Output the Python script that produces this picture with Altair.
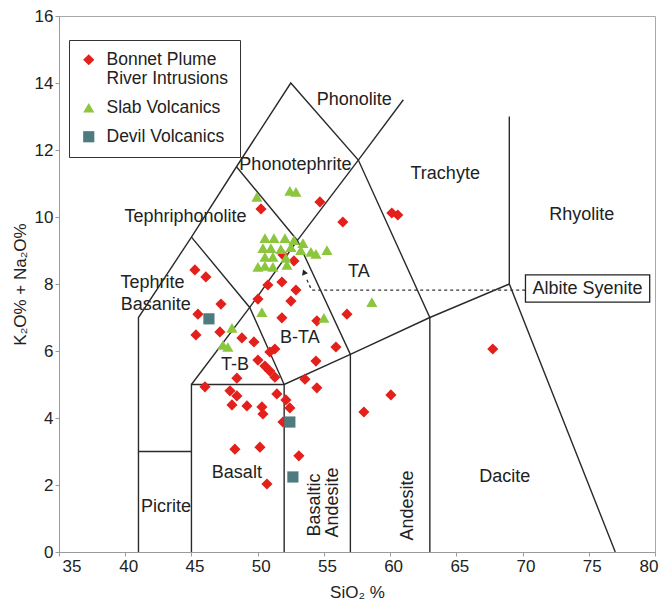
import altair as alt
import pandas as pd

# ---------------- data ----------------
series_names = ["Bonnet Plume River Intrusions", "Slab Volcanics", "Devil Volcanics"]
series_colors = ["#e3201b", "#8cc63e", "#4e7b7e"]
series_shapes = ["diamond", "triangle-up", "square"]

bp_sio2 = [50.25, 54.70, 56.43, 60.13, 60.58, 51.91, 52.74, 45.26, 46.09, 47.23,
           45.49, 45.34, 47.15, 48.81, 49.72, 50.77, 51.83, 52.89, 50.02, 52.51,
           51.83, 50.92, 51.30, 50.02, 50.55, 50.92, 51.30, 48.43, 56.74, 54.47,
           55.91, 54.40, 53.57, 54.47, 46.02, 47.91, 48.43, 48.06, 49.19, 50.32,
           50.40, 51.45, 52.13, 52.43, 51.91, 48.28, 50.17, 53.11, 50.70, 67.75,
           60.06, 58.02]
bp_alk = [10.24, 10.45, 9.85, 10.12, 10.06, 8.87, 8.69, 8.42, 8.21, 7.40,
          7.10, 6.48, 6.57, 6.39, 6.27, 7.97, 8.06, 7.82, 7.55, 7.49,
          6.99, 5.97, 6.06, 5.73, 5.55, 5.40, 5.22, 5.19, 7.10, 6.90,
          6.12, 5.70, 5.16, 4.90, 4.93, 4.81, 4.66, 4.39, 4.36, 4.33,
          4.12, 4.72, 4.54, 4.30, 3.88, 3.07, 3.13, 2.87, 2.03, 6.06,
          4.69, 4.18]

slab_sio2 = [49.94, 52.43, 52.89, 50.55, 51.23, 52.06, 52.74, 53.42, 50.40, 51.00,
             51.75, 52.51, 53.26, 54.02, 54.40, 55.23, 50.55, 51.15, 52.13, 50.02,
             50.55, 51.15, 52.21, 58.62, 50.32, 55.00, 48.06, 47.38, 47.75]
slab_alk = [10.60, 10.78, 10.75, 9.37, 9.37, 9.37, 9.31, 9.22, 9.07, 9.07,
            9.04, 9.10, 9.01, 8.96, 8.90, 9.01, 8.81, 8.81, 8.78, 8.51,
            8.54, 8.51, 8.57, 7.46, 7.16, 6.99, 6.69, 6.18, 6.12]

devil_sio2 = [46.32, 52.43, 52.66]
devil_alk = [6.96, 3.88, 2.24]

# TAS field boundaries (SiO2, Na2O+K2O) as polylines
boundary_lines = [
    [(41, 0), (41, 7), (45, 9.4), (48.4, 11.5), (52.5, 14), (57.6, 11.7), (63, 7), (69, 8), (77, 0)],
    [(41, 3), (45, 3)],
    [(45, 0), (45, 5), (52, 5), (57, 5.9), (63, 7)],
    [(52, 0), (52, 5)],
    [(57, 0), (57, 5.9)],
    [(63, 0), (63, 7)],
    [(69, 8), (69, 13)],
    [(45, 5), (49.4, 7.3), (53, 9.3), (57.6, 11.7), (61, 13.5)],
    [(45, 9.4), (49.4, 7.3), (52, 5)],
    [(48.4, 11.5), (53, 9.3), (57, 5.9)],
]

# Albite syenite pointer (dashed) and box
pointer_sio2 = [70.2, 54.07, 53.64]
pointer_alk = [7.82, 7.82, 8.20]
arrow_sio2 = [53.50]
arrow_alk = [8.36]
box_sio2 = [70.22, 79.60]
box_alk = [7.46, 8.27]

# field labels
label_text = ["Phonolite", "Phonotephrite", "Trachyte", "Rhyolite", "Tephriphonolite",
              "Tephrite", "Basanite", "TA", "B-TA", "T-B", "Basalt", "Picrite", "Dacite"]
label_sio2 = [57.30, 52.85, 64.16, 74.47, 44.55, 42.06, 42.30, 57.64, 53.19, 48.28, 48.43, 43.08, 68.66]
label_alk = [13.49, 11.55, 11.28, 10.06, 10.00, 8.03, 7.37, 8.37, 6.38, 5.58, 2.36, 1.33, 2.23]

vlabel_text = ["Basaltic", "Andesite", "Andesite"]
vlabel_sio2 = [54.32, 55.70, 61.36]
vlabel_alk = [1.40, 1.48, 1.39]

# ---------------- tables ----------------
pts = pd.DataFrame({
    "SiO2": bp_sio2 + slab_sio2 + devil_sio2,
    "Alk": bp_alk + slab_alk + devil_alk,
    "Series": [series_names[0]] * len(bp_sio2) + [series_names[1]] * len(slab_sio2)
              + [series_names[2]] * len(devil_sio2),
})

rows = []
for i, line in enumerate(boundary_lines):
    for j, (sx, ay) in enumerate(line):
        rows.append({"seg": i, "idx": j, "SiO2": sx, "Alk": ay})
lines_df = pd.DataFrame(rows)

pointer_df = pd.DataFrame({"SiO2": pointer_sio2, "Alk": pointer_alk, "idx": range(len(pointer_sio2))})
arrow_df = pd.DataFrame({"SiO2": arrow_sio2, "Alk": arrow_alk})
box_df = pd.DataFrame({"SiO2": [box_sio2[0]], "SiO2_2": [box_sio2[1]],
                       "Alk": [box_alk[0]], "Alk_2": [box_alk[1]]})
box_text_df = pd.DataFrame({"SiO2": [(box_sio2[0] + box_sio2[1]) / 2],
                            "Alk": [(box_alk[0] + box_alk[1]) / 2],
                            "text": ["Albite Syenite"]})
labels_df = pd.DataFrame({"SiO2": label_sio2, "Alk": label_alk, "text": label_text})
vlabels_df = pd.DataFrame({"SiO2": vlabel_sio2, "Alk": vlabel_alk, "text": vlabel_text})

FONT = "Liberation Sans"
INK = "#222222"

xscale = alt.Scale(domain=[35, 80], nice=False, zero=False)
yscale = alt.Scale(domain=[0, 16], nice=False, zero=True)
X = alt.X("SiO2:Q", scale=xscale,
          axis=alt.Axis(values=list(range(35, 81, 5)), title="SiO₂ %", labelOffset=3))
Y = alt.Y("Alk:Q", scale=yscale,
          axis=alt.Axis(values=list(range(0, 17, 2)), title="K₂O% + Na₂O%"))

text_layer = alt.Chart(labels_df).mark_text(
    font=FONT, fontSize=18, color=INK, align="center", baseline="middle"
).encode(x=X, y=Y, text="text:N")

vtext_layer = alt.Chart(vlabels_df).mark_text(
    font=FONT, fontSize=18, color=INK, align="center", baseline="middle", angle=270
).encode(x=X, y=Y, text="text:N")

line_layer = alt.Chart(lines_df).mark_line(color="#2a2a2a", strokeWidth=1.4).encode(
    x=X, y=Y, detail="seg:N", order="idx:Q")

pointer_layer = alt.Chart(pointer_df).mark_line(
    color="#333333", strokeWidth=1.3, strokeDash=[3, 3]
).encode(x=X, y=Y, order="idx:Q")

arrow_layer = alt.Chart(arrow_df).mark_point(
    shape="triangle-up", filled=True, color="#222222", size=40, angle=339, opacity=1
).encode(x=X, y=Y)

box_layer = alt.Chart(box_df).mark_rect(
    fill="white", stroke="#222222", strokeWidth=1.3
).encode(x=X, x2="SiO2_2:Q", y=Y, y2="Alk_2:Q")

box_text_layer = alt.Chart(box_text_df).mark_text(
    font=FONT, fontSize=18, color=INK, align="center", baseline="middle"
).encode(x=X, y=Y, text="text:N")

legend = alt.Legend(
    title=None, orient="none", legendX=10, legendY=24,
    padding=11, strokeColor="#333333", fillColor="white",
    labelFont=FONT, labelFontSize=17.5, labelColor=INK, labelOffset=9,
    symbolSize=125, rowPadding=10, labelLimit=300,
    labelExpr="datum.label == 'Bonnet Plume River Intrusions' ? ['Bonnet Plume', 'River Intrusions'] : datum.label",
)

point_layer = alt.Chart(pts).mark_point(filled=True, opacity=1, size=125, strokeWidth=0).encode(
    x=X, y=Y,
    color=alt.Color("Series:N", scale=alt.Scale(domain=series_names, range=series_colors), legend=legend),
    shape=alt.Shape("Series:N", scale=alt.Scale(domain=series_names, range=series_shapes), legend=legend),
)

chart = alt.layer(
    text_layer, vtext_layer, line_layer, pointer_layer, arrow_layer,
    box_layer, box_text_layer, point_layer
).properties(
    width=596, height=536,
    padding={"left": 59, "top": 16, "right": 15, "bottom": 56},
    autosize=alt.AutoSizeParams(type="none"),
    background="white",
).configure_view(
    stroke="#a8a8a8", strokeWidth=1
).configure_axis(
    grid=False, domainColor="#9a9a9a", tickColor="#9a9a9a", tickSize=4,
    labelFont=FONT, labelFontSize=17, labelColor=INK, labelPadding=2,
    titleFont=FONT, titleFontSize=17, titleColor=INK, titleFontWeight="normal",
).configure_axisX(titlePadding=10).configure_axisY(titlePadding=5)

chart.save("out.html", embed_options={"renderer": "svg", "actions": False})
